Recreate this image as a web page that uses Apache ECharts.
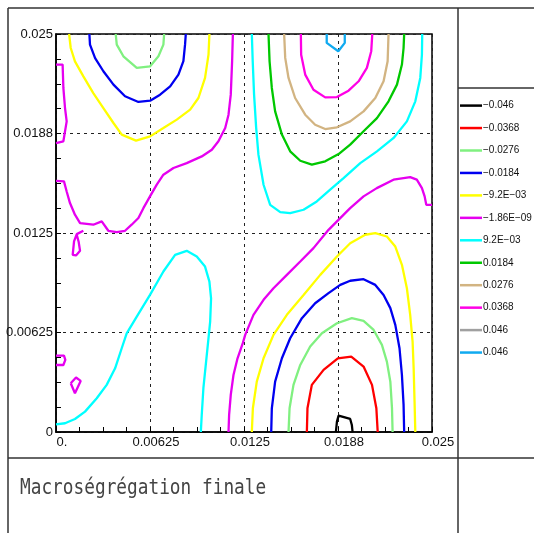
<!DOCTYPE html>
<html>
<head>
<meta charset="utf-8">
<script src="https://cdn.jsdelivr.net/npm/echarts@6/dist/echarts.min.js"></script>
<style>
  html, body { margin: 0; padding: 0; background: #fff; }
  #chart { width: 534px; height: 533px; }
</style>
</head>
<body>
<div id="chart"></div>
<script>
// Contour levels, in legend order
const levelKeys = ['n046', 'n0368', 'n0276', 'n0184', 'n0092', 'zero', 'p0092', 'p0184', 'p0276', 'p0368', 'p046a', 'p046b'];
const levelLabels = ['\u22120.046', '\u22120.0368', '\u22120.0276', '\u22120.0184', '\u22129.2E\u221203', '\u22121.86E\u221209',
  '9.2E\u221203', '0.0184', '0.0276', '0.0368', '0.046', '0.046'];

// Tick labels (metres)
const xTickLabels = ['0.', '0.00625', '0.0125', '0.0188', '0.025'];
const yTickLabels = ['0', '0.00625', '0.0125', '0.0188', '0.025'];

// Isoline paths, [x, y] in metres
const n046Arc = [[0.01861, 0], [0.01868, 0.00065], [0.01879, 0.00103], [0.01956, 0.00082], [0.01967, 0.00044], [0.01972, 0]];

const n0368Arc = [[0.01668, 0], [0.01672, 0.00149], [0.01701, 0.00296], [0.01779, 0.00390], [0.01874, 0.00463],
  [0.01963, 0.00474], [0.02045, 0.00411], [0.02101, 0.00296], [0.02130, 0.00149], [0.02139, 0]];

const n0276Top = [[0.00397, 0.025], [0.00404, 0.02433], [0.00448, 0.02360], [0.00537, 0.02287], [0.00626, 0.02297],
  [0.00681, 0.02360], [0.00714, 0.02433], [0.00719, 0.025]];
const n0276Bottom = [[0.01546, 0], [0.01553, 0.00149], [0.01579, 0.00296], [0.01624, 0.00421], [0.01690, 0.00537],
  [0.01768, 0.00620], [0.01868, 0.00683], [0.01967, 0.00715], [0.02045, 0.00698], [0.02112, 0.00641],
  [0.02167, 0.00547], [0.02200, 0.00442], [0.02223, 0.00316], [0.02234, 0.00149], [0.02238, 0]];

const n0184Top = [[0.00222, 0.025], [0.00226, 0.02433], [0.00260, 0.02349], [0.00315, 0.02266], [0.00382, 0.02182],
  [0.00459, 0.02109], [0.00548, 0.02073], [0.00626, 0.02081], [0.00692, 0.02119], [0.00759, 0.02171],
  [0.00814, 0.02245], [0.00847, 0.02329], [0.00858, 0.02433], [0.00863, 0.025]];
const n0184Bottom = [[0.01431, 0], [0.01435, 0.00149], [0.01457, 0.00316], [0.01502, 0.00463], [0.01557, 0.00589],
  [0.01635, 0.00715], [0.01723, 0.00809], [0.01812, 0.00872], [0.01890, 0.00924], [0.01956, 0.00950],
  [0.02045, 0.00960], [0.02123, 0.00924], [0.02178, 0.00861], [0.02223, 0.00778], [0.02256, 0.00673],
  [0.02284, 0.00526], [0.02300, 0.00358], [0.02311, 0.00170], [0.02315, 0]];

const n0092Top = [[0.00087, 0.025], [0.00098, 0.02412], [0.00126, 0.02328], [0.00182, 0.02234], [0.00248, 0.02129],
  [0.00315, 0.02035], [0.00382, 0.01941], [0.00437, 0.01868], [0.00532, 0.01830], [0.00626, 0.01857],
  [0.00714, 0.01909], [0.00803, 0.01962], [0.00892, 0.02025], [0.00947, 0.02098], [0.00991, 0.02224],
  [0.01014, 0.02370], [0.01020, 0.025]];
const n0092Bottom = [[0.01302, 0], [0.01309, 0.00149], [0.01335, 0.00316], [0.01380, 0.00463], [0.01446, 0.00610],
  [0.01535, 0.00736], [0.01646, 0.00861], [0.01757, 0.00987], [0.01868, 0.01102], [0.01956, 0.01186],
  [0.02056, 0.01239], [0.02123, 0.01249], [0.02200, 0.01228], [0.02256, 0.01165], [0.02300, 0.01050],
  [0.02333, 0.00903], [0.02355, 0.00736], [0.02371, 0.00568], [0.02378, 0.00400], [0.02384, 0.00191], [0.02389, 0]];

const zeroMain = [[0.01176, 0.025], [0.01171, 0.02329], [0.01162, 0.02119], [0.01147, 0.01993], [0.01125, 0.01909],
  [0.01080, 0.01826], [0.01036, 0.01773], [0.00969, 0.01731], [0.00869, 0.01689], [0.00781, 0.01658],
  [0.00714, 0.01616], [0.00670, 0.01554], [0.00625, 0.01480], [0.00581, 0.01406], [0.00548, 0.01344],
  [0.00503, 0.01302], [0.00459, 0.01264], [0.00404, 0.01256], [0.00348, 0.01264], [0.00304, 0.01323],
  [0.00248, 0.01302], [0.00160, 0.01312], [0.00126, 0.01365], [0.00093, 0.01438], [0.00071, 0.01511],
  [0.00053, 0.01574], [0.00044, 0.01578], [0, 0.01578]];
const zeroEdge = [[0, 0.02308], [0.00044, 0.02308], [0.00049, 0.02161], [0.00060, 0.02035], [0.00071, 0.01951],
  [0.00060, 0.01888], [0.00049, 0.01826], [0.00044, 0.01815], [0, 0.01815]];
const zeroLoop = [[0.00182, 0.01264], [0.00138, 0.01243], [0.00120, 0.01197], [0.00111, 0.01113], [0.00133, 0.01109],
  [0.00160, 0.01138], [0.00151, 0.01193], [0.00138, 0.01239]];
const zeroNotch = [[0, 0.00480], [0.00053, 0.00480], [0.00062, 0.00453], [0.00049, 0.00421], [0, 0.00421]];
const zeroIsland = [[0.00098, 0.00306], [0.00133, 0.00342], [0.00164, 0.00321], [0.00126, 0.00243], [0.00098, 0.00306]];
const zeroDiagonal = [[0.01147, 0], [0.01151, 0.00107], [0.01162, 0.00233], [0.01180, 0.00358], [0.01207, 0.00463],
  [0.01242, 0.00558], [0.01258, 0.00610], [0.01313, 0.00736], [0.01380, 0.00830], [0.01446, 0.00903],
  [0.01535, 0.00987], [0.01624, 0.01071], [0.01712, 0.01155], [0.01812, 0.01270], [0.01868, 0.01323],
  [0.01956, 0.01406], [0.02045, 0.01480], [0.02133, 0.01532], [0.02244, 0.01585], [0.02355, 0.01601],
  [0.02399, 0.01585], [0.02433, 0.01532], [0.02451, 0.01480], [0.02462, 0.01427], [0.025, 0.01427]];

const p0092Lower = [[0, 0.00048], [0.00060, 0.00055], [0.00126, 0.00082], [0.00193, 0.00128], [0.00271, 0.00212],
  [0.00337, 0.00296], [0.00393, 0.00400], [0.00437, 0.00526], [0.00470, 0.00620], [0.00537, 0.00725],
  [0.00625, 0.00861], [0.00714, 0.01008], [0.00792, 0.01113], [0.00869, 0.01138], [0.00936, 0.01102],
  [0.00991, 0.01039], [0.01020, 0.00945], [0.01031, 0.00840], [0.01025, 0.00694], [0.01014, 0.00589],
  [0.00998, 0.00442], [0.00980, 0.00275], [0.00969, 0.00107], [0.00963, 0]];
const p0092Upper = [[0.01302, 0.025], [0.01308, 0.02329], [0.01317, 0.02119], [0.01331, 0.01909], [0.01346, 0.01742],
  [0.01380, 0.01553], [0.01424, 0.01427], [0.01491, 0.01381], [0.01557, 0.01375], [0.01646, 0.01396],
  [0.01734, 0.01448], [0.01823, 0.01522], [0.01912, 0.01595], [0.02023, 0.01689], [0.02134, 0.01763],
  [0.02245, 0.01847], [0.02333, 0.01951], [0.02389, 0.02077], [0.02422, 0.02224], [0.02433, 0.02370], [0.02435, 0.025]];

const p0184Arc = [[0.01413, 0.025], [0.01420, 0.02329], [0.01435, 0.02161], [0.01457, 0.02014], [0.01502, 0.01868],
  [0.01557, 0.01763], [0.01624, 0.01704], [0.01701, 0.01679], [0.01790, 0.01700], [0.01879, 0.01746],
  [0.01956, 0.01805], [0.02045, 0.01889], [0.02134, 0.01972], [0.02211, 0.02077], [0.02267, 0.02182],
  [0.02300, 0.02308], [0.02311, 0.02412], [0.02315, 0.025]];

const p0276Arc = [[0.01517, 0.025], [0.01524, 0.02350], [0.01546, 0.02224], [0.01590, 0.02098], [0.01657, 0.01993],
  [0.01723, 0.01930], [0.01790, 0.01903], [0.01868, 0.01914], [0.01956, 0.01951], [0.02045, 0.02014],
  [0.02123, 0.02098], [0.02178, 0.02203], [0.02205, 0.02329], [0.02211, 0.025]];

const p0368Arc = [[0.01628, 0.025], [0.01630, 0.02370], [0.01657, 0.02245], [0.01712, 0.02150], [0.01790, 0.02102],
  [0.01868, 0.02104], [0.01945, 0.02144], [0.02012, 0.02203], [0.02067, 0.02287], [0.02096, 0.02392], [0.02103, 0.025]];

const p046Notch = [[0.01800, 0.025], [0.01800, 0.02444], [0.01877, 0.02392], [0.01920, 0.02444], [0.01920, 0.025]];

// Which paths belong to which level
const levelPaths = {
  n046: [n046Arc],
  n0368: [n0368Arc],
  n0276: [n0276Top, n0276Bottom],
  n0184: [n0184Top, n0184Bottom],
  n0092: [n0092Top, n0092Bottom],
  zero: [zeroMain, zeroEdge, zeroLoop, zeroNotch, zeroIsland, zeroDiagonal],
  p0092: [p0092Lower, p0092Upper],
  p0184: [p0184Arc],
  p0276: [p0276Arc],
  p0368: [p0368Arc],
  p046a: [],
  p046b: [p046Notch]
};

const levelColors = {
  n046: '#000000', n0368: '#ff0000', n0276: '#80f080', n0184: '#0000f0', n0092: '#ffff00', zero: '#e600f0',
  p0092: '#00ffff', p0184: '#00c800', p0276: '#d2b482', p0368: '#ff00e6', p046a: '#a0a0a0', p046b: '#10aaf0'
};

const TICK_STEP = 0.0015625;
const LABEL_STEP = 0.00625;
function tickText(labels) {
  return function (v) {
    const k = v / LABEL_STEP;
    const r = Math.round(k);
    return Math.abs(k - r) < 1e-6 ? labels[r] : '';
  };
}

const series = [];
levelKeys.forEach(function (key) {
  const color = levelColors[key];
  const paths = levelPaths[key].length ? levelPaths[key] : [[]];
  paths.forEach(function (path) {
    series.push({
      name: key,
      type: 'line',
      xAxisIndex: 0,
      yAxisIndex: 0,
      data: path,
      color: color,
      showSymbol: false,
      symbol: 'none',
      silent: true,
      itemStyle: { color: color },
      lineStyle: { color: color, width: 2.3 }
    });
  });
});

const labelFont = { fontFamily: 'Liberation Sans', fontSize: 13, color: '#111' };
const frame = { stroke: '#333', lineWidth: 1.5 };

const chart = echarts.init(document.getElementById('chart'), null, { renderer: 'canvas' });
chart.setOption({
  animation: false,
  backgroundColor: '#fff',
  grid: { left: 56, top: 34, width: 376, height: 398, show: true, borderColor: '#000', borderWidth: 1.5, backgroundColor: 'transparent' },
  xAxis: [
    {
      type: 'value', min: 0, max: 0.025, interval: TICK_STEP,
      axisLine: { show: true, onZero: false, lineStyle: { color: '#000', width: 1.5 } },
      axisTick: { show: true, inside: true, length: 5, lineStyle: { color: '#000' } },
      axisLabel: Object.assign({ formatter: tickText(xTickLabels), margin: 4, align: 'center', padding: [0, 0, 0, 12], showMinLabel: true, showMaxLabel: true }, labelFont),
      splitLine: { show: false }
    },
    {
      type: 'value', min: 0, max: 0.025, interval: LABEL_STEP, position: 'top',
      axisLine: { show: false }, axisTick: { show: false }, axisLabel: { show: false },
      splitLine: { show: true, lineStyle: { color: '#222', width: 1, type: [3, 4] } }
    }
  ],
  yAxis: [
    {
      type: 'value', min: 0, max: 0.025, interval: TICK_STEP,
      axisLine: { show: true, onZero: false, lineStyle: { color: '#000', width: 1.5 } },
      axisTick: { show: true, inside: true, length: 5, lineStyle: { color: '#000' } },
      axisLabel: Object.assign({ formatter: tickText(yTickLabels), margin: 3, showMinLabel: true, showMaxLabel: true }, labelFont),
      splitLine: { show: false }
    },
    {
      type: 'value', min: 0, max: 0.025, interval: LABEL_STEP, position: 'right',
      axisLine: { show: false }, axisTick: { show: false }, axisLabel: { show: false },
      splitLine: { show: true, lineStyle: { color: '#222', width: 1, type: [3, 4] } }
    }
  ],
  legend: {
    orient: 'vertical', left: 460, top: 98.6, padding: 0,
    itemWidth: 22, itemHeight: 2.5, itemGap: 8.45, icon: 'rect',
    selectedMode: false,
    data: levelKeys,
    formatter: function (name) { return levelLabels[levelKeys.indexOf(name)]; },
    textStyle: { fontFamily: 'Liberation Sans', fontSize: 10, color: '#111', lineHeight: 14, padding: [0, 0, 0, -4] }
  },
  graphic: [
    { type: 'line', shape: { x1: 8, y1: 8, x2: 534, y2: 8 }, style: frame, silent: true },
    { type: 'line', shape: { x1: 8, y1: 8, x2: 8, y2: 533 }, style: frame, silent: true },
    { type: 'line', shape: { x1: 458, y1: 8, x2: 458, y2: 533 }, style: frame, silent: true },
    { type: 'line', shape: { x1: 8, y1: 458, x2: 534, y2: 458 }, style: frame, silent: true },
    { type: 'line', shape: { x1: 458, y1: 88, x2: 534, y2: 88 }, style: frame, silent: true },
    {
      type: 'text', x: 20, y: 488, scaleY: 1.23, silent: true,
      style: { text: 'Macroségrégation finale', font: '17.8px "DejaVu Sans Mono"', fill: '#444', textVerticalAlign: 'middle' }
    }
  ],
  series: series
});
</script>
</body>
</html>
